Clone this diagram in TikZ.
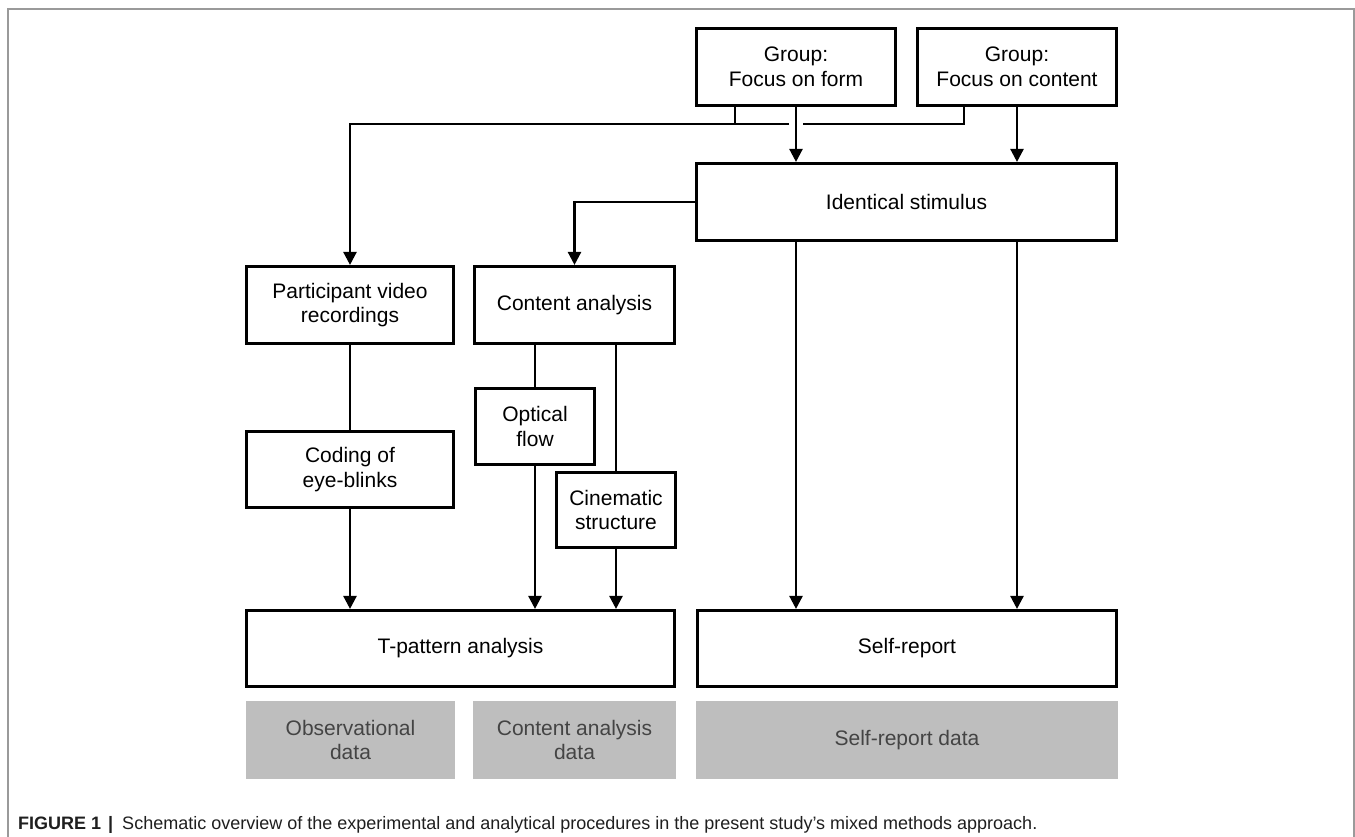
\documentclass[tikz,border=0pt]{standalone}
\usepackage{fontspec}
\setmainfont{Liberation Sans}
\usetikzlibrary{arrows.meta}
\definecolor{framegray}{HTML}{9A9A9A}
\definecolor{datagray}{HTML}{BEBEBE}
\definecolor{datatext}{HTML}{444444}
\begin{document}
\begin{tikzpicture}[x=1pt,y=-1pt,
  box/.style={draw=black, line width=2.6pt, fill=white, align=center, inner sep=0pt,
    font=\fontsize{21}{24.5}\selectfont},
  databox/.style={fill=datagray, text=datatext, align=center, inner sep=0pt,
    font=\fontsize{21}{24.5}\selectfont},
  conn/.style={line width=2.4pt, draw=black},
  arr/.style={conn, -{Triangle[width=13pt,length=13pt]}},
]
\useasboundingbox (0,0) rectangle (1355,837);
\fill[white] (0,0) rectangle (1355,837);
% frame
\draw[framegray, line width=1.5pt] (8,845) -- (8,9) -- (1354,9) -- (1354,845);

% top group boxes
\node[box, minimum width=199.5pt, minimum height=77.5pt] (gform) at (796,67) {Group:\\Focus on form};
\node[box, minimum width=199.5pt, minimum height=77.5pt] (gcont) at (1017,67) {Group:\\Focus on content};
\node[box, minimum width=420.5pt, minimum height=77.5pt] (ident) at (906.5,202) {Identical stimulus};

% left column
\node[box, minimum width=207.5pt, minimum height=77.5pt] (partic) at (350,305) {Participant video\\recordings};
\node[box, minimum width=200.5pt, minimum height=77.5pt] (content) at (574.5,305) {Content analysis};
\node[box, minimum width=207.5pt, minimum height=76.5pt] (coding) at (350,469.5) {Coding of\\eye-blinks};
\node[box, minimum width=118.5pt, minimum height=76.5pt] (optical) at (535,426.5) {Optical\\flow};
\node[box, minimum width=118.5pt, minimum height=75.5pt] (cinema) at (616,510) {Cinematic\\structure};
\node[box, minimum width=428.5pt, minimum height=76.5pt] (tpat) at (460.5,648.5) {T-pattern analysis};
\node[box, minimum width=419.5pt, minimum height=76.5pt] (self) at (907,648.5) {Self-report};

% data boxes
\node[databox, minimum width=209pt, minimum height=78pt] (obs) at (350.5,740) {Observational\\data};
\node[databox, minimum width=203pt, minimum height=78pt] (cad) at (574.5,740) {Content analysis\\data};
\node[databox, minimum width=422pt, minimum height=78pt] (srd) at (907,740) {Self-report data};

% connector helper coordinates
\coordinate (cS) at (964,107);
\coordinate (cB) at (964,124);
\coordinate (fS) at (735,107);
\coordinate (fB) at (735,124);
\coordinate (gapR) at (803,124);
\coordinate (gapL) at (789,124);
\coordinate (selfL) at (796,0);
\coordinate (selfR) at (1017,0);

% connectors
\draw[arr] (gform.south) -- (ident.north -| gform.south);
\draw[arr] (gcont.south) -- (ident.north -| gcont.south);
\draw[conn] (gcont.south -| cS) -- (cB) -- (gapR);
\draw[arr] (gapL) -| (partic.north);
\draw[conn] (gform.south -| fS) -- (fB);
\draw[arr] (ident.west) -| (content.north);
\draw[arr] (ident.south -| selfL) -- (self.north -| selfL);
\draw[arr] (ident.south -| selfR) -- (self.north -| selfR);
\draw[conn] (partic.south) -- (coding.north);
\draw[arr] (coding.south) -- (tpat.north -| coding.south);
\draw[conn] (content.south -| optical.north) -- (optical.north);
\draw[conn] (content.south -| cinema.north) -- (cinema.north);
\draw[arr] (optical.south) -- (tpat.north -| optical.south);
\draw[arr] (cinema.south) -- (tpat.north -| cinema.south);

% caption
\node[anchor=base west, inner sep=0pt, font=\fontsize{18}{22}\selectfont, text=black!88] (cap) at (18,829)
  {\textbf{FIGURE 1}\hspace{7pt}\textbf{|}\hspace{9pt}Schematic overview of the experimental and analytical procedures in the present study’s mixed methods approach.};
\end{tikzpicture}
\end{document}
